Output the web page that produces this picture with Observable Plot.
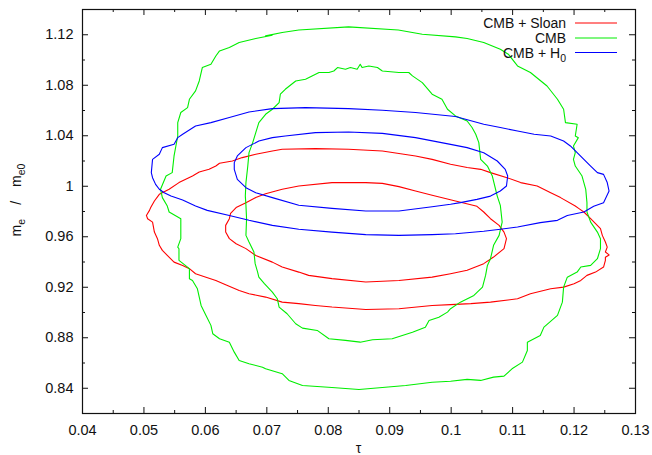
<!DOCTYPE html>
<html><head><meta charset="utf-8">
<script src="https://cdn.jsdelivr.net/npm/d3@7"></script>
<script src="https://cdn.jsdelivr.net/npm/@observablehq/plot@0.6"></script>
<style>body{margin:0;background:#fff}</style>
</head><body><div id="chart"></div>
<script>
const xTicks = [0.04,0.05,0.06,0.07,0.08,0.09,0.10,0.11,0.12,0.13];
const xTickLabels = ["0.04","0.05","0.06","0.07","0.08","0.09","0.1","0.11","0.12","0.13"];
const xMinorTicks = [0.045,0.055,0.065,0.075,0.085,0.095,0.105,0.115,0.125];
const yTicks = [0.84,0.88,0.92,0.96,1.00,1.04,1.08,1.12];
const yTickLabels = ["0.84","0.88","0.92","0.96","1","1.04","1.08","1.12"];
const yMinorTicks = [0.86,0.90,0.94,0.98,1.02,1.06,1.10];
const seriesNames = ["CMB + Sloan","CMB","CMB + H"];
const seriesSub = ["","","0"];
const seriesColors = ["#ff0000","#00ee00","#0000ff"];

// CMB + Sloan (outer = 95%, inner = 68%)
const sloan95 = [[0.0504,0.9769],[0.0509,0.9809],[0.0511,0.9831],[0.0517,0.9883],[0.0525,0.9936],[0.0541,0.9976],[0.0557,1.0029],[0.0568,1.0055],[0.0579,1.0081],[0.0590,1.0113],[0.0606,1.0134],[0.0617,1.0160],[0.0623,1.0182],[0.0644,1.0200],[0.0660,1.0227],[0.0682,1.0253],[0.0709,1.0279],[0.0725,1.0293],[0.0779,1.0298],[0.0833,1.0293],[0.0888,1.0279],[0.0942,1.0240],[0.0969,1.0213],[0.0999,1.0174],[0.1026,1.0148],[0.1048,1.0134],[0.1064,1.0108],[0.1091,1.0068],[0.1113,1.0029],[0.1140,1.0002],[0.1162,0.9949],[0.1178,0.9910],[0.1202,0.9843],[0.1208,0.9823],[0.1216,0.9796],[0.1227,0.9743],[0.1235,0.9704],[0.1243,0.9664],[0.1246,0.9611],[0.1251,0.9558],[0.1254,0.9518],[0.1251,0.9479],[0.1257,0.9456],[0.1251,0.9437],[0.1251,0.9413],[0.1248,0.9360],[0.1235,0.9320],[0.1221,0.9294],[0.1211,0.9254],[0.1200,0.9228],[0.1183,0.9201],[0.1162,0.9188],[0.1129,0.9149],[0.1108,0.9109],[0.1064,0.9082],[0.1032,0.9070],[0.0999,0.9062],[0.0969,0.9056],[0.0915,0.9030],[0.0861,0.9024],[0.0806,0.9043],[0.0779,0.9056],[0.0752,0.9070],[0.0725,0.9082],[0.0698,0.9122],[0.0671,0.9149],[0.0655,0.9175],[0.0633,0.9220],[0.0617,0.9254],[0.0601,0.9280],[0.0584,0.9307],[0.0574,0.9347],[0.0563,0.9373],[0.0549,0.9399],[0.0538,0.9452],[0.0530,0.9492],[0.0525,0.9532],[0.0522,0.9585],[0.0517,0.9637],[0.0514,0.9716],[0.0506,0.9743]];
const sloan68 = [[0.0633,0.9690],[0.0633,0.9637],[0.0639,0.9585],[0.0650,0.9545],[0.0666,0.9506],[0.0682,0.9452],[0.0709,0.9399],[0.0725,0.9360],[0.0752,0.9320],[0.0768,0.9294],[0.0806,0.9268],[0.0861,0.9241],[0.0915,0.9254],[0.0969,0.9280],[0.0999,0.9307],[0.1026,0.9334],[0.1053,0.9387],[0.1069,0.9439],[0.1086,0.9506],[0.1090,0.9585],[0.1086,0.9637],[0.1078,0.9690],[0.1064,0.9743],[0.1053,0.9796],[0.1042,0.9841],[0.1007,0.9883],[0.0969,0.9928],[0.0942,0.9962],[0.0915,0.9997],[0.0888,1.0023],[0.0861,1.0029],[0.0806,1.0029],[0.0752,1.0002],[0.0725,0.9976],[0.0698,0.9941],[0.0682,0.9910],[0.0666,0.9870],[0.0650,0.9831],[0.0641,0.9785],[0.0639,0.9743]];

// CMB alone
const cmb95 = [[0.0698,1.1191],[0.0725,1.1218],[0.0752,1.1238],[0.0833,1.1262],[0.0914,1.1238],[0.0953,1.1204],[0.1007,1.1183],[0.1026,1.1170],[0.1053,1.1138],[0.1080,1.1085],[0.1093,1.1046],[0.1108,1.0953],[0.1129,1.0901],[0.1156,1.0794],[0.1173,1.0689],[0.1183,1.0610],[0.1186,1.0504],[0.1205,1.0491],[0.1202,1.0398],[0.1207,1.0385],[0.1199,1.0319],[0.1202,1.0266],[0.1199,1.0213],[0.1202,1.0160],[0.1213,1.0081],[0.1219,0.9976],[0.1221,0.9870],[0.1221,0.9796],[0.1227,0.9716],[0.1238,0.9637],[0.1243,0.9585],[0.1243,0.9506],[0.1238,0.9426],[0.1227,0.9373],[0.1211,0.9360],[0.1205,0.9320],[0.1189,0.9280],[0.1183,0.9201],[0.1181,0.9082],[0.1173,0.8977],[0.1151,0.8884],[0.1145,0.8818],[0.1124,0.8765],[0.1124,0.8699],[0.1116,0.8607],[0.1099,0.8554],[0.1086,0.8496],[0.1069,0.8488],[0.1048,0.8462],[0.1026,0.8470],[0.0999,0.8456],[0.0969,0.8448],[0.0926,0.8422],[0.0888,0.8406],[0.0850,0.8390],[0.0806,0.8406],[0.0758,0.8422],[0.0736,0.8462],[0.0725,0.8515],[0.0698,0.8554],[0.0693,0.8567],[0.0671,0.8594],[0.0655,0.8620],[0.0647,0.8686],[0.0639,0.8765],[0.0623,0.8792],[0.0612,0.8832],[0.0609,0.8898],[0.0601,0.8977],[0.0593,0.9056],[0.0587,0.9188],[0.0579,0.9254],[0.0574,0.9268],[0.0574,0.9347],[0.0557,0.9413],[0.0557,0.9505],[0.0555,0.9518],[0.0560,0.9585],[0.0560,0.9743],[0.0541,0.9796],[0.0538,0.9843],[0.0530,0.9910],[0.0527,0.9976],[0.0536,1.0081],[0.0546,1.0108],[0.0549,1.0240],[0.0555,1.0398],[0.0555,1.0504],[0.0560,1.0584],[0.0571,1.0623],[0.0574,1.0689],[0.0584,1.0755],[0.0590,1.0834],[0.0595,1.0940],[0.0609,1.0966],[0.0617,1.1032],[0.0623,1.1072],[0.0639,1.1099],[0.0655,1.1138],[0.0682,1.1170],[0.0709,1.1196]];
const cmb68 = [[0.0720,1.0663],[0.0722,1.0729],[0.0730,1.0768],[0.0747,1.0834],[0.0763,1.0847],[0.0785,1.0901],[0.0801,1.0901],[0.0809,1.0913],[0.0815,1.0940],[0.0828,1.0927],[0.0836,1.0940],[0.0847,1.0927],[0.0852,1.0966],[0.0855,1.0940],[0.0866,1.0953],[0.0880,1.0940],[0.0888,1.0913],[0.0915,1.0901],[0.0931,1.0901],[0.0937,1.0874],[0.0953,1.0821],[0.0969,1.0729],[0.0985,1.0689],[0.0994,1.0610],[0.1007,1.0557],[0.1026,1.0517],[0.1034,1.0465],[0.1040,1.0412],[0.1045,1.0346],[0.1048,1.0213],[0.1059,1.0160],[0.1067,1.0081],[0.1075,0.9922],[0.1080,0.9849],[0.1083,0.9716],[0.1078,0.9611],[0.1069,0.9532],[0.1064,0.9426],[0.1059,0.9373],[0.1056,0.9294],[0.1051,0.9201],[0.1037,0.9135],[0.1015,0.9082],[0.0999,0.9030],[0.0994,0.9003],[0.0980,0.8963],[0.0964,0.8937],[0.0958,0.8884],[0.0937,0.8844],[0.0904,0.8792],[0.0872,0.8784],[0.0852,0.8765],[0.0828,0.8779],[0.0801,0.8792],[0.0782,0.8858],[0.0758,0.8876],[0.0747,0.8911],[0.0733,0.8990],[0.0720,0.9043],[0.0717,0.9109],[0.0709,0.9161],[0.0696,0.9228],[0.0687,0.9280],[0.0685,0.9320],[0.0681,0.9387],[0.0679,0.9479],[0.0671,0.9558],[0.0666,0.9611],[0.0667,0.9743],[0.0666,0.9849],[0.0665,0.9922],[0.0666,1.0029],[0.0669,1.0160],[0.0671,1.0266],[0.0677,1.0346],[0.0682,1.0425],[0.0687,1.0504],[0.0698,1.0570],[0.0709,1.0610]];

// CMB + H0
const h095 = [[0.0530,1.0306],[0.0549,1.0332],[0.0555,1.0385],[0.0563,1.0412],[0.0584,1.0477],[0.0609,1.0504],[0.0639,1.0544],[0.0671,1.0588],[0.0709,1.0615],[0.0763,1.0623],[0.0833,1.0615],[0.0888,1.0602],[0.0942,1.0584],[0.1007,1.0552],[0.1053,1.0491],[0.1080,1.0465],[0.1108,1.0438],[0.1135,1.0412],[0.1162,1.0398],[0.1183,1.0358],[0.1194,1.0319],[0.1205,1.0266],[0.1216,1.0213],[0.1227,1.0160],[0.1238,1.0108],[0.1248,1.0094],[0.1254,1.0029],[0.1257,0.9962],[0.1248,0.9870],[0.1232,0.9841],[0.1216,0.9796],[0.1189,0.9769],[0.1173,0.9730],[0.1145,0.9712],[0.1108,0.9677],[0.1080,0.9659],[0.1053,0.9643],[0.1007,0.9624],[0.0969,0.9617],[0.0915,0.9611],[0.0861,0.9617],[0.0806,0.9637],[0.0752,0.9659],[0.0709,0.9690],[0.0671,0.9730],[0.0639,0.9769],[0.0603,0.9809],[0.0584,0.9843],[0.0563,0.9891],[0.0544,0.9922],[0.0533,0.9949],[0.0525,0.9976],[0.0519,1.0015],[0.0514,1.0068],[0.0512,1.0108],[0.0514,1.0213],[0.0525,1.0253]];
const h068 = [[0.0647,1.0187],[0.0652,1.0240],[0.0666,1.0306],[0.0687,1.0358],[0.0709,1.0385],[0.0730,1.0398],[0.0779,1.0425],[0.0833,1.0430],[0.0888,1.0419],[0.0942,1.0385],[0.0999,1.0332],[0.1026,1.0306],[0.1053,1.0266],[0.1075,1.0200],[0.1088,1.0134],[0.1092,1.0081],[0.1090,1.0002],[0.1080,0.9962],[0.1064,0.9922],[0.1042,0.9896],[0.1015,0.9870],[0.0999,0.9857],[0.0969,0.9838],[0.0915,0.9804],[0.0861,0.9804],[0.0806,0.9825],[0.0752,0.9849],[0.0709,0.9910],[0.0682,0.9949],[0.0666,0.9989],[0.0652,1.0055],[0.0647,1.0134]];

const W = 652, H = 455, mL = 82, mR = 17, mT = 9, mB = 42;
const pw = W - mL - mR, ph = H - mT - mB;

function closed(pts, name) {
  return [...pts, pts[0]].map(([x, y]) => ({x, y, c: name}));
}
const sloanData = [...closed(sloan95, "s95"), ...closed(sloan68, "s68")];
const cmbData = [...closed(cmb95, "c95"), ...closed(cmb68, "c68")];
const h0Data = [...closed(h095, "h95"), ...closed(h068, "h68")];

const fmtX = d => xTickLabels[xTicks.indexOf(d)];
const fmtY = d => yTickLabels[yTicks.indexOf(d)];

const chart = Plot.plot({
  width: W, height: H,
  marginLeft: mL, marginRight: mR, marginTop: mT, marginBottom: mB,
  x: {domain: [0.04, 0.13]},
  y: {domain: [0.82, 1.14]},
  style: {fontFamily: "'Liberation Sans', Arial, sans-serif", fontSize: "14.5px", background: "white", color: "#111"},
  marks: [
    Plot.line(sloanData, {x: "x", y: "y", z: "c", stroke: seriesColors[0], strokeWidth: 1.1}),
    Plot.line(cmbData, {x: "x", y: "y", z: "c", stroke: seriesColors[1], strokeWidth: 1.1}),
    Plot.line(h0Data, {x: "x", y: "y", z: "c", stroke: seriesColors[2], strokeWidth: 1.1}),
    Plot.frame({stroke: "#111", strokeWidth: 1.2}),
    Plot.tickX(xTicks, {x: d => d, insetTop: ph - 6, stroke: "#111"}),
    Plot.tickX(xTicks, {x: d => d, insetBottom: ph - 6, stroke: "#111"}),
    Plot.tickX(xMinorTicks, {x: d => d, insetTop: ph - 3, stroke: "#111"}),
    Plot.tickX(xMinorTicks, {x: d => d, insetBottom: ph - 3, stroke: "#111"}),
    Plot.tickY(yTicks, {y: d => d, insetRight: pw - 6, stroke: "#111"}),
    Plot.tickY(yTicks, {y: d => d, insetLeft: pw - 6, stroke: "#111"}),
    Plot.tickY(yMinorTicks, {y: d => d, insetRight: pw - 3, stroke: "#111"}),
    Plot.tickY(yMinorTicks, {y: d => d, insetLeft: pw - 3, stroke: "#111"}),
    Plot.axisX({ticks: xTicks, tickSize: 0, tickPadding: 11, tickFormat: fmtX, label: null}),
    Plot.axisY({ticks: yTicks, tickSize: 0, tickPadding: 9, tickFormat: fmtY, label: null})
  ]
});
document.getElementById("chart").appendChild(chart);

const svg = d3.select(chart);
// Legend
const rowsY = [23, 38, 52.5];
const leg = svg.append("g").attr("font-family", "'Liberation Sans', Arial, sans-serif").attr("font-size", "14px");
seriesNames.forEach((name, i) => {
  const t = leg.append("text").attr("x", 566).attr("y", rowsY[i]).attr("dy", "0.36em")
    .attr("text-anchor", "end").attr("fill", "#111").text(name);
  if (seriesSub[i]) t.append("tspan").attr("dy", 4).attr("font-size", "10.5px").text(seriesSub[i]);
  leg.append("line").attr("x1", 575).attr("x2", 617).attr("y1", rowsY[i]).attr("y2", rowsY[i])
    .attr("stroke", seriesColors[i]).attr("stroke-width", 1.1);
});
// Axis titles
const yl = svg.append("text").attr("transform", "translate(21,200) rotate(-90)")
  .attr("text-anchor", "middle").attr("font-family", "'Liberation Sans', Arial, sans-serif")
  .attr("font-size", "14px").attr("fill", "#111");
yl.append("tspan").text("m");
yl.append("tspan").attr("dy", 4).attr("font-size", "10.5px").text("e");
yl.append("tspan").attr("dy", -4).attr("dx", 14).text("/");
yl.append("tspan").attr("dx", 14).text("m");
yl.append("tspan").attr("dy", 4).attr("font-size", "10.5px").text("e0");
svg.append("text").attr("x", mL + pw / 2).attr("y", 453).attr("text-anchor", "middle")
  .attr("font-family", "'Liberation Sans', Arial, sans-serif").attr("font-size", "14px")
  .attr("fill", "#111").text("τ");
</script>
</body></html>
